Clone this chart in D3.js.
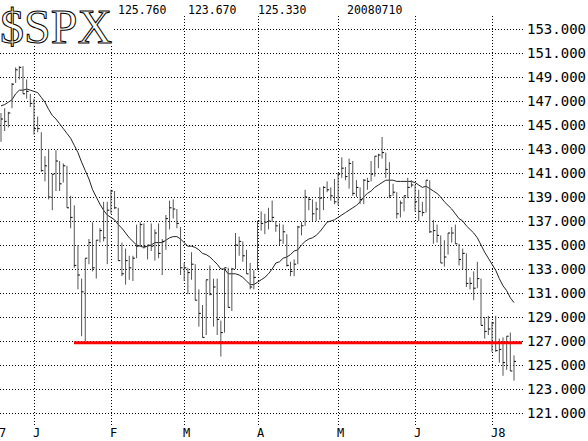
<!DOCTYPE html>
<html>
<head>
<meta charset="utf-8">
<script src="https://cdn.jsdelivr.net/npm/d3@7"></script>
<style>
  body { margin: 0; background: #fff; }
  svg { display: block; }
  .mono { font-family: "DejaVu Sans Mono", monospace; fill: #000; }
</style>
</head>
<body>
<div id="chart"></div>
<script>
var width = 588,
    height = 441;

// trading days, Dec 18 2007 .. Jul 10 2008
var dates = [
  "2007-12-18","2007-12-19","2007-12-20","2007-12-21","2007-12-24","2007-12-26","2007-12-27","2007-12-28","2007-12-31",
  "2008-01-02","2008-01-03","2008-01-04","2008-01-07","2008-01-08","2008-01-09","2008-01-10","2008-01-11","2008-01-14",
  "2008-01-15","2008-01-16","2008-01-17","2008-01-18","2008-01-22","2008-01-23","2008-01-24","2008-01-25","2008-01-28",
  "2008-01-29","2008-01-30","2008-01-31",
  "2008-02-01","2008-02-04","2008-02-05","2008-02-06","2008-02-07","2008-02-08","2008-02-11","2008-02-12","2008-02-13",
  "2008-02-14","2008-02-15","2008-02-19","2008-02-20","2008-02-21","2008-02-22","2008-02-25","2008-02-26","2008-02-27",
  "2008-02-28","2008-02-29",
  "2008-03-03","2008-03-04","2008-03-05","2008-03-06","2008-03-07","2008-03-10","2008-03-11","2008-03-12","2008-03-13",
  "2008-03-14","2008-03-17","2008-03-18","2008-03-19","2008-03-20","2008-03-24","2008-03-25","2008-03-26","2008-03-27",
  "2008-03-28","2008-03-31",
  "2008-04-01","2008-04-02","2008-04-03","2008-04-04","2008-04-07","2008-04-08","2008-04-09","2008-04-10","2008-04-11",
  "2008-04-14","2008-04-15","2008-04-16","2008-04-17","2008-04-18","2008-04-21","2008-04-22","2008-04-23","2008-04-24",
  "2008-04-25","2008-04-28","2008-04-29","2008-04-30",
  "2008-05-01","2008-05-02","2008-05-05","2008-05-06","2008-05-07","2008-05-08","2008-05-09","2008-05-12","2008-05-13",
  "2008-05-14","2008-05-15","2008-05-16","2008-05-19","2008-05-20","2008-05-21","2008-05-22","2008-05-23","2008-05-27",
  "2008-05-28","2008-05-29","2008-05-30",
  "2008-06-02","2008-06-03","2008-06-04","2008-06-05","2008-06-06","2008-06-09","2008-06-10","2008-06-11","2008-06-12",
  "2008-06-13","2008-06-16","2008-06-17","2008-06-18","2008-06-19","2008-06-20","2008-06-23","2008-06-24","2008-06-25",
  "2008-06-26","2008-06-27","2008-06-30",
  "2008-07-01","2008-07-02","2008-07-03","2008-07-07","2008-07-08","2008-07-09","2008-07-10"
];

var highs = [
  146.0,146.4,146.1,148.5,149.8,149.9,149.9,148.8,147.6,
  147.2,145.7,144.4,142.4,143.0,140.9,142.9,142.0,141.8,141.6,139.1,138.3,135.0,132.2,133.9,135.5,136.9,135.4,
  136.4,138.6,138.6,
  139.6,139.5,138.1,135.2,134.7,134.1,134.1,136.7,136.9,136.8,135.0,136.8,136.3,136.8,135.5,137.5,138.7,138.8,
  138.0,136.5,
  133.5,133.1,134.4,133.4,131.3,130.0,132.1,133.3,132.2,132.2,128.7,133.1,133.1,133.1,136.0,135.7,135.3,134.6,
  133.5,132.9,
  137.0,137.8,137.6,138.1,138.7,137.0,136.8,136.7,135.9,133.6,133.8,136.6,136.9,139.6,139.0,138.8,138.6,139.8,
  139.9,140.3,139.8,140.5,
  141.0,142.3,141.5,142.2,142.0,140.4,139.8,140.5,140.6,142.0,142.4,142.6,144.0,142.7,141.9,140.1,139.4,138.7,
  139.1,140.6,140.4,
  140.0,139.6,138.6,140.4,140.4,137.1,136.7,135.8,135.4,136.0,136.5,136.7,135.1,134.7,134.3,132.3,132.8,133.6,
  132.2,129.0,129.1,
  128.6,129.1,127.2,127.3,127.4,127.7,125.8
];

var lows = [
  143.6,144.5,144.8,146.4,148.5,148.8,147.6,147.2,146.5,
  144.2,144.4,141.1,140.3,138.8,137.9,139.5,139.5,140.2,138.1,136.4,133.1,131.3,127.4,127.0,133.4,132.8,132.2,
  135.2,135.3,133.4,
  137.6,138.0,133.7,132.4,131.7,132.1,132.0,133.9,134.9,134.7,133.8,134.5,133.7,133.9,132.5,134.6,136.3,137.2,
  136.4,132.5,
  132.0,130.9,132.1,130.4,128.2,127.3,127.5,130.8,128.2,127.5,125.7,127.7,129.8,129.5,133.0,134.1,133.6,132.6,
  131.3,131.3,
  132.9,136.2,135.9,136.3,136.9,136.1,135.0,135.1,133.2,132.4,132.4,133.4,135.8,136.6,137.9,137.0,137.0,137.1,
  137.9,139.4,138.7,138.4,
  138.3,140.6,140.4,139.7,139.1,139.0,138.4,138.4,139.6,140.3,140.7,141.4,142.2,140.6,138.9,139.1,137.2,137.3,
  137.8,138.9,139.8,
  137.8,137.0,137.4,137.7,136.0,135.1,135.2,133.5,133.2,134.2,135.2,135.1,133.3,133.0,131.5,131.3,130.4,131.4,
  128.3,127.2,127.5,
  126.1,126.1,125.2,124.1,124.6,124.5,123.7
];

var closes = [
  145.5,145.3,146.0,148.4,149.6,149.8,147.6,147.8,146.8,
  144.7,144.7,141.2,141.6,139.0,140.9,142.0,140.1,141.6,138.1,137.3,133.3,132.5,131.1,133.9,135.2,133.1,135.4,
  136.2,135.6,137.9,
  139.5,138.1,133.7,132.6,133.7,133.1,133.9,134.9,136.7,134.9,135.0,134.9,136.0,134.3,135.3,137.2,138.1,138.0,
  136.8,133.1,
  133.1,132.7,133.4,130.4,129.3,127.3,132.1,130.9,131.5,128.8,127.7,133.1,129.8,133.0,135.0,135.3,134.1,132.6,
  131.5,132.3,
  137.0,136.8,136.9,137.0,137.3,136.6,135.4,136.1,133.3,132.8,133.4,136.5,136.6,139.0,138.8,137.6,138.0,138.9,
  139.8,139.6,139.1,138.6,
  140.9,141.4,140.7,141.8,139.3,139.8,138.8,140.4,140.3,140.9,142.4,142.5,142.7,141.3,139.1,139.4,137.6,138.5,
  139.1,139.8,140.0,
  138.6,137.8,137.7,140.4,136.1,136.2,135.8,133.5,134.0,136.0,136.0,135.1,133.8,134.3,131.8,131.8,131.4,132.2,
  128.3,127.8,128.0,
  128.5,126.2,126.3,125.2,127.4,124.5,125.3
];

// 20-day moving average as plotted
var movingAvg = [
  146.6,146.7,146.9,147.1,147.6,147.9,147.9,148.0,147.9,
  147.8,147.7,147.3,146.9,146.3,145.8,145.5,145.1,144.7,144.3,143.9,143.3,142.7,141.9,141.2,140.5,139.6,139.0,
  138.4,137.9,137.5,
  137.3,137.1,136.7,136.4,136.0,135.6,135.3,135.0,134.9,134.8,134.9,135.0,135.2,135.2,135.2,135.4,135.6,135.7,
  135.7,135.5,
  135.2,134.9,134.9,134.8,134.6,134.3,134.2,134.0,133.7,133.4,133.0,133.0,132.6,132.6,132.6,132.5,132.3,132.0,
  131.7,131.7,
  131.9,132.1,132.3,132.6,133.0,133.5,133.6,133.9,134.0,134.2,134.5,134.6,135.0,135.3,135.5,135.6,135.8,136.1,
  136.5,136.9,137.0,137.1,
  137.3,137.5,137.7,137.9,138.1,138.3,138.6,139.0,139.3,139.5,139.8,140.0,140.2,140.4,140.4,140.4,140.3,140.3,
  140.3,140.3,140.3,
  140.2,140.0,139.8,139.9,139.7,139.5,139.3,139.0,138.6,138.3,138.0,137.6,137.2,137.0,136.6,136.3,136.0,135.6,
  135.0,134.4,133.9,
  133.4,132.9,132.2,131.6,131.2,130.6,130.2
];

var yTicks = [121,123,125,127,129,131,133,135,137,139,141,143,145,147,149,151,153];

var monthTicks = ["2008-01-02","2008-02-01","2008-03-03","2008-04-01","2008-05-01","2008-06-02","2008-07-01"];
var monthLabels = ["J","F","M","A","M","J","J8"];

var header = ["125.760","123.670","125.330","20080710"];
var headerX = [118,188,258,347];

var supportLevel = 126.85;
var supportFrom = "2008-01-18";

var x = d3.scalePoint()
    .domain(dates)
    .range([1, 514]);

var y = d3.scaleLinear()
    .domain([121, 153])
    .range([413, 29]);

var svg = d3.select("#chart").append("svg")
    .attr("width", width)
    .attr("height", height);

// grid
svg.append("g").selectAll("line")
    .data(yTicks)
  .enter().append("line")
    .attr("x1", 0).attr("x2", 523)
    .attr("y1", function(d) { return Math.round(y(d)) + 0.5; })
    .attr("y2", function(d) { return Math.round(y(d)) + 0.5; })
    .attr("stroke", "#000")
    .attr("stroke-dasharray", "1,2");

svg.append("g").selectAll("line")
    .data(monthTicks)
  .enter().append("line")
    .attr("x1", function(d) { return Math.round(x(d)) + 0.5; })
    .attr("x2", function(d) { return Math.round(x(d)) + 0.5; })
    .attr("y1", 16).attr("y2", 427)
    .attr("stroke", "#000")
    .attr("stroke-dasharray", "1,2");

// right axis labels
svg.append("g").selectAll("text")
    .data(yTicks)
  .enter().append("text")
    .attr("class", "mono")
    .attr("x", 527)
    .attr("y", function(d) { return y(d); })
    .attr("dy", "0.36em")
    .style("font-size", "14px")
    .text(function(d) { return d3.format(".3f")(d); });

// month labels
svg.append("g").selectAll("text")
    .data(monthTicks)
  .enter().append("text")
    .attr("class", "mono")
    .attr("x", function(d) { return Math.round(x(d)) - 1; })
    .attr("y", 437)
    .style("font-size", "12px")
    .text(function(d, i) { return monthLabels[i]; });

svg.append("text")
    .attr("class", "mono")
    .attr("x", -1).attr("y", 437)
    .style("font-size", "12px")
    .text("7");

// moving average
var line = d3.line()
    .x(function(d, i) { return x(dates[i]); })
    .y(function(d) { return y(d); });

svg.append("path")
    .datum(movingAvg)
    .attr("d", line)
    .attr("fill", "none")
    .attr("stroke", "#222")
    .attr("stroke-width", 1);

// price bars (high-low with close tick)
var bars = svg.append("g")
    .attr("stroke-width", 1);

bars.selectAll(".hl")
    .data(dates)
  .enter().append("line")
    .attr("stroke", "#555")
    .attr("x1", function(d) { return x(d); })
    .attr("x2", function(d) { return x(d); })
    .attr("y1", function(d, i) { return y(highs[i]); })
    .attr("y2", function(d, i) { return y(lows[i]); });

bars.selectAll(".cl")
    .data(dates)
  .enter().append("line")
    .attr("stroke", "#000")
    .attr("x1", function(d) { return x(d); })
    .attr("x2", function(d) { return x(d) + 2; })
    .attr("y1", function(d, i) { return y(closes[i]); })
    .attr("y2", function(d, i) { return y(closes[i]); });

// support line
svg.append("line")
    .attr("x1", x(supportFrom) - 4)
    .attr("x2", 522)
    .attr("y1", y(supportLevel))
    .attr("y2", y(supportLevel))
    .attr("stroke", "#ff0000")
    .attr("stroke-width", 3);

// title block
svg.append("rect")
    .attr("x", 0).attr("y", 0)
    .attr("width", 112).attr("height", 46)
    .attr("fill", "#fff");

svg.append("text")
    .attr("x", 0).attr("y", 43)
    .style("font-family", "'Liberation Serif', serif")
    .style("font-size", "48px")
    .attr("fill", "#fff")
    .attr("stroke", "#000")
    .attr("stroke-width", 1)
    .text("$SPX");

svg.append("g").selectAll("text")
    .data(header)
  .enter().append("text")
    .attr("class", "mono")
    .attr("x", function(d, i) { return headerX[i]; })
    .attr("y", 14)
    .style("font-size", "11.5px")
    .text(function(d) { return d; });
</script>
</body>
</html>
